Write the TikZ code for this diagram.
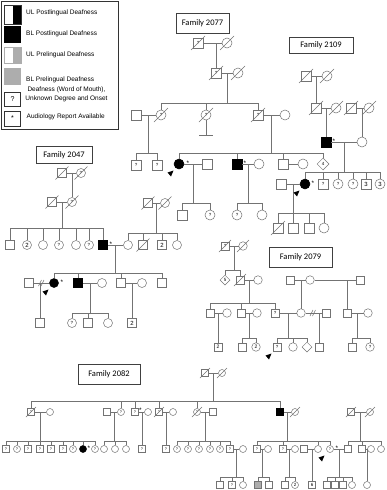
\documentclass[tikz,border=0pt]{standalone}
\usepackage{fontspec}
\setmainfont{Liberation Sans}
\newfontfamily\famfont{Carlito}
\usetikzlibrary{shapes.geometric,calc}
\definecolor{lc}{gray}{0.45}
\definecolor{gfill}{gray}{0.68}
\tikzset{
  ln/.style={draw=lc, line width=0.5pt},
  sym/.style={draw=lc, fill=white, line width=0.5pt, inner sep=0pt, font=\fontsize{4.5}{5}\selectfont},
  sq/.style={sym, rectangle, minimum size=#1},
  sq/.default=10pt,
  ci/.style={sym, circle, minimum size=#1},
  ci/.default=10pt,
  dm/.style={sym, diamond, minimum size=#1},
  dm/.default=12pt,
  blk/.style={fill=black, draw=black},
  gry/.style={fill=gfill},
  famlabel/.style={draw=black!75, line width=0.6pt, font=\famfont\fontsize{8.5}{9}\selectfont, inner sep=0pt},
  lgt/.style={font=\fontsize{6.5}{7}\selectfont, anchor=west, inner sep=0pt},
  starmark/.style={font=\fontsize{6.5}{6.5}\selectfont, inner sep=0pt},
}
\newcommand\dec[2][7]{\draw[ln] ([shift={(-#1pt,-#1pt)}]#2.center) -- ([shift={(#1pt,#1pt)}]#2.center);}
\newcommand\cp[3]{\coordinate (#1) at ($(#2)!.5!(#3)$);}
\newcommand\sib[5]{%
  \draw[ln] (#1) -- (#1 |- 0,#2);
  \draw[ln] (#3 |- 0,#2) -- (#4 |- 0,#2);
  \foreach \c in {#5} {\draw[ln] (\c.north) -- (\c |- 0,#2);}
}
\newcommand\prob[1]{\fill[black] ([shift={(-5.5pt,-6.5pt)}]#1.center) -- ([shift={(-11.5pt,-8.5pt)}]#1.center) -- ([shift={(-8pt,-12.5pt)}]#1.center) -- cycle;}
\newcommand\dvc[1]{\draw[ln] ([shift={(-3pt,-3pt)}]#1) -- ++(3pt,6pt); \draw[ln] ([shift={(-0.5pt,-3pt)}]#1) -- ++(3pt,6pt);}
\begin{document}
\begin{tikzpicture}[x=1pt,y=-1pt]
\useasboundingbox[fill=white] (0,0) rectangle (386,490);
% ---------------- Legend
\draw[black!80, line width=0.6pt] (1,1) rectangle (118,129);
\node[draw=black!80, minimum width=17pt, minimum height=19pt, inner sep=0pt,
  path picture={\fill[black] (path picture bounding box.north) rectangle (path picture bounding box.south east);}] (L1) at (12.5,14.5) {};
\node[fill=black, minimum width=17pt, minimum height=17pt, inner sep=0pt] (L2) at (12.5,34.5) {};
\node[draw=gfill, minimum width=17pt, minimum height=16pt, inner sep=0pt,
  path picture={\fill[gfill] (path picture bounding box.north) rectangle (path picture bounding box.south east);}] (L3) at (12.5,55) {};
\node[fill=gfill, minimum width=17pt, minimum height=17pt, inner sep=0pt] (L4) at (12.5,76.5) {};
\node[draw=black!80, minimum width=16pt, minimum height=14pt, inner sep=0pt, font=\fontsize{7}{7}\selectfont] (L5) at (12.5,99) {?};
\node[draw=black!80, minimum width=16pt, minimum height=15pt, inner sep=0pt, font=\fontsize{7}{7}\selectfont] (L6) at (12.5,118.5) {*};
\node[lgt] (t1) at (26,13) {UL Postlingual Deafness};
\node[lgt] (t2) at (26,34) {BL Postlingual Deafness};
\node[lgt] (t3) at (26,55) {UL Prelingual Deafness};
\node[lgt] (t4) at (26,80) {BL Prelingual Deafness};
\node[font=\fontsize{6.5}{8.5}\selectfont, align=center, inner sep=0pt] (t5) at (66.5,94.5) {Deafness (Word of Mouth),\\Unknown Degree and Onset};
\node[lgt] (t6) at (26.5,117) {Audiology Report Available};

% ---------------- Family 2077
\node[famlabel, minimum width=53pt, minimum height=20pt] (F2077) at (202.5,23) {Family 2077};
\node[sq] (a1) at (198,43) {?};
\node[ci] (a2) at (227,43) {};
\node[sq] (a3) at (216,73) {?};
\node[ci] (a4) at (238,73) {};
\node[sq] (a5) at (136,115) {};
\node[ci] (a6) at (161,115) {?};
\node[ci] (a7) at (206,115) {?};
\node[sq] (a8) at (258,115) {?};
\node[ci] (a9) at (285,115) {};
\node[sq] (a10) at (136,165) {?};
\node[sq] (a11) at (157,165) {?};
\node[ci,blk] (a12) at (179,164) {};
\node[sq] (a16) at (207,164) {};
\node[sq,blk] (a13) at (237,164) {};
\node[ci] (a17) at (259,164) {};
\node[sq] (a14) at (283,164) {};
\node[ci] (a18) at (303,164) {};
\node[dm=12pt] (a15) at (323,164) {4};
\node[sq] (a19) at (182,215) {};
\node[ci] (a20) at (210,215) {?};
\node[ci] (a21) at (237,215) {?};
\node[ci] (a22) at (262,215) {};
\draw[ln] (a1) -- (a2);
\draw[ln] (a3.north) -- (a3 |- a1);
\draw[ln] (a3) -- (a4);
\cp{pa2}{a3}{a4}
\sib{pa2}{103}{a6}{a8}{a6,a7,a8}
\draw[ln] (a5) -- (a6);
\cp{pa3}{a5}{a6}
\sib{pa3}{153}{a10}{a11}{a10,a11}
\draw[ln] (a7.south) -- ++(0,15) coordinate (a7b);
\draw[ln] ([xshift=-7pt]a7b) -- ([xshift=7pt]a7b);
\draw[ln] (a8) -- (a9);
\cp{pa4}{a8}{a9}
\sib{pa4}{153}{a12}{a15}{a12,a13,a14,a15}
\draw[ln] (a12) -- (a16);
\cp{pa5}{a12}{a16}
\sib{pa5}{203}{a19}{a20}{a19,a20}
\draw[ln] (a13) -- (a17);
\cp{pa6}{a13}{a17}
\sib{pa6}{203}{a21}{a22}{a21,a22}
\draw[ln] (a14) -- (a18);
\foreach \n in {a1,a2,a3,a4,a6,a7,a8} {\dec{\n}}
\node[starmark] (sa12) at (188,163) {*};
\node[starmark] (sa13) at (245,163) {*};
\prob{a12}

% ---------------- Family 2109
\node[famlabel, minimum width=64pt, minimum height=16pt] (F2109) at (321,45) {Family 2109};
\node[sq] (b1) at (306,76) {};
\node[ci] (b2) at (327,76) {};
\node[sq] (b3) at (316,108) {};
\node[ci] (b4) at (336,108) {};
\node[sq] (b5) at (351,108) {};
\node[ci] (b6) at (369,108) {};
\node[sq,blk] (b7) at (326,142) {};
\node[ci] (b8) at (362,142) {};
\node[sq] (b15) at (281,184) {};
\node[ci,blk] (b9) at (305,184) {};
\node[sq] (b10) at (323,184) {?};
\node[ci] (b11) at (338,184) {?};
\node[ci] (b12) at (353,184) {?};
\node[sq, font=\fontsize{6}{6}\selectfont] (b13) at (366,184) {3};
\node[ci, font=\fontsize{6}{6}\selectfont] (b14) at (380,184) {3};
\node[sq] (b16) at (278,228) {};
\node[sq] (b17) at (293,228) {};
\node[sq] (b18) at (309,228) {};
\node[ci] (b19) at (324,228) {};
\draw[ln] (b1) -- (b2);
\draw[ln] (b3.north) -- (b3 |- b1);
\draw[ln] (b3) -- (b4);
\draw[ln] (b7.north) -- (b7 |- b3);
\draw[ln] (b5) -- (b6);
\draw[ln] (b8.north) -- (b8 |- b5);
\draw[ln] (b7) -- (b8);
\cp{pb1}{b7}{b8}
\sib{pb1}{172}{b9}{b14}{b9,b10,b11,b12,b13,b14}
\draw[ln] (b15) -- (b9);
\cp{pb2}{b15}{b9}
\sib{pb2}{213}{b16}{b19}{b16,b17,b18,b19}
\foreach \n in {b1,b2,b3,b4,b5,b6,b16} {\dec{\n}}
\node[starmark] (sb7) at (334,141) {*};
\node[starmark] (sb9) at (313,183) {*};
\prob{b9}

% ---------------- Family 2047
\node[famlabel, minimum width=56pt, minimum height=17pt] (F2047) at (64,155) {Family 2047};
\node[sq=9pt] (c1) at (62,173) {};
\node[ci=9pt] (c2) at (81,173) {?};
\node[sq=9pt] (c3) at (52,202) {};
\node[ci=9pt] (c4) at (72,202) {?};
\node[sq=9pt] (c5) at (10,245) {};
\node[ci=9pt, font=\fontsize{6}{6}\selectfont] (c6) at (27,245) {2};
\node[ci=9pt] (c7) at (43,245) {};
\node[ci=9pt] (c8) at (59,245) {?};
\node[ci=9pt] (c9) at (76,245) {};
\node[ci=9pt] (c10) at (89,245) {?};
\node[sq=9pt,blk] (c11) at (103,245) {};
\node[ci=9pt] (c12) at (128,245) {};
\node[sq=9pt] (c13) at (148,203) {};
\node[ci=9pt] (c14) at (165,203) {};
\node[sq=9pt] (c15) at (143,245) {};
\node[sq=9pt, font=\fontsize{6}{6}\selectfont] (c16) at (162,245) {2};
\node[ci=9pt] (c17) at (177,245) {};
\node[sq=9pt] (c22) at (29,283) {};
\node[ci=9pt,blk] (c18) at (54,283) {};
\node[sq=9pt,blk] (c19) at (78,283) {};
\node[ci=9pt] (c23) at (102,283) {};
\node[sq=9pt] (c20) at (121,283) {};
\node[ci=9pt] (c24) at (142,283) {};
\node[sq=9pt] (c21) at (162,283) {};
\node[sq=9pt] (c25) at (40,323) {};
\node[ci=9pt] (c26) at (72,323) {?};
\node[sq=9pt] (c27) at (88,323) {};
\node[ci=9pt] (c28) at (108,323) {};
\node[sq=9pt, font=\fontsize{6}{6}\selectfont] (c29) at (132,323) {2};
\draw[ln] (c1) -- (c2);
\draw[ln] (c4.north) -- (c4 |- c1);
\draw[ln] (c3) -- (c4);
\cp{pc1}{c3}{c4}
\sib{pc1}{228}{c5}{c11}{c5,c6,c7,c8,c9,c10,c11}
\draw[ln] (c13) -- (c14);
\cp{pc2}{c13}{c14}
\sib{pc2}{233}{c12}{c17}{c12,c15,c16,c17}
\draw[ln] (c11) -- (c12);
\cp{pc3}{c11}{c12}
\sib{pc3}{273}{c18}{c21}{c18,c19,c20,c21}
\draw[ln] (c22) -- (c18);
\coordinate (dv1) at ($(c22)!.5!(c18)$);
\dvc{dv1}
\draw[ln] (c25.north) -- (c25 |- c22);
\draw[ln] (c19) -- (c23);
\cp{pc4}{c19}{c23}
\sib{pc4}{313}{c26}{c28}{c26,c27,c28}
\draw[ln] (c20) -- (c24);
\draw[ln] (c29.north) -- (c29 |- c20);
\foreach \n in {c1,c2,c3,c4,c13,c14,c15} {\dec[6.5]{\n}}
\node[starmark] (sc11) at (111,244) {*};
\node[starmark] (sc18) at (62,282) {*};
\prob{c18}

% ---------------- Family 2079
\node[famlabel, minimum width=63pt, minimum height=20pt] (F2079) at (300.5,257.5) {Family 2079};
\node[sq=8.5pt] (d1) at (225,246) {?};
\node[ci=8.5pt] (d2) at (243,246) {};
\node[dm=10pt, font=\fontsize{4.5}{5}\selectfont] (d3) at (225,280) {5};
\node[sq=8.5pt] (d4) at (240,280) {};
\node[ci=8.5pt] (d5) at (258,280) {};
\node[sq=8.5pt] (d11) at (290,280) {};
\node[ci=8.5pt] (d12) at (310,280) {};
\node[sq=8.5pt] (d13) at (360,280) {};
\node[sq=8.5pt] (d6) at (210,313) {};
\node[ci=8.5pt] (d7) at (227,313) {};
\node[sq=8.5pt] (d8) at (241,313) {};
\node[ci=8.5pt] (d9) at (257,313) {};
\node[sq=8.5pt] (d10) at (275,313) {?};
\node[ci=8.5pt] (d14) at (301,313) {};
\node[sq=8.5pt] (d20) at (326,313) {};
\node[sq=8.5pt] (d15) at (347,313) {};
\node[ci=8.5pt] (d16) at (368,313) {};
\node[sq=8.5pt, font=\fontsize{5}{5}\selectfont] (d24) at (218,347) {2};
\node[sq=8.5pt] (d25) at (242,347) {};
\node[ci=8.5pt, font=\fontsize{5}{5}\selectfont] (d26) at (256,347) {2};
\node[sq=8.5pt] (d17) at (277,347) {?};
\node[ci=8.5pt] (d18) at (293,347) {};
\node[dm=10pt] (d19) at (307,347) {};
\node[sq=8.5pt] (d21) at (319,347) {};
\node[sq=8.5pt] (d22) at (352,347) {};
\node[ci=8.5pt] (d23) at (370,347) {?};
\draw[ln] (d1) -- (d2);
\cp{pd1}{d1}{d2}
\sib{pd1}{270}{d3}{d4}{d3,d4}
\draw[ln] (d4) -- (d5);
\cp{pd2}{d4}{d5}
\sib{pd2}{303}{d6}{d10}{d6,d8,d10}
\draw[ln] (d11) -- (d12);
\draw[ln] (d12) -- (d13);
\draw[ln] (d14.north) -- (d14 |- d11);
\draw[ln] (d15.north) -- (d15 |- d12);
\draw[ln] (d6) -- (d7);
\draw[ln] (d24.north) -- (d24 |- d6);
\draw[ln] (d8) -- (d9);
\cp{pd3}{d8}{d9}
\sib{pd3}{338}{d25}{d26}{d25,d26}
\draw[ln] (d10) -- (d14);
\cp{pd4}{d10}{d14}
\sib{pd4}{338}{d17}{d19}{d17,d18,d19}
\draw[ln] (d14) -- (d20);
\coordinate (dv2) at (313,313);
\dvc{dv2}
\draw[ln] (d21.north) -- (d21 |- d14);
\draw[ln] (d15) -- (d16);
\cp{pd5}{d15}{d16}
\sib{pd5}{338}{d22}{d23}{d22,d23}
\foreach \n in {d1,d2,d4} {\dec[6]{\n}}
\prob{d17}

% ---------------- Family 2082
\node[famlabel, minimum width=62pt, minimum height=20pt] (F2082) at (109,374) {Family 2082};
\tikzset{s7/.style={minimum size=7pt, font=\fontsize{3.8}{4}\selectfont}}
\node[sq,s7] (e1) at (205,373) {};
\node[ci,s7] (e2) at (222,373) {};
\node[sq,s7] (e3) at (31,412) {?};
\node[ci,s7] (e4) at (50,412) {};
\node[sq,s7] (e5) at (107,412) {};
\node[ci,s7] (e6) at (121,412) {?};
\node[sq,s7] (e7) at (135,412) {?};
\node[ci,s7] (e8) at (148,412) {};
\node[sq,s7] (e9) at (159,412) {?};
\node[ci,s7] (e10) at (173,412) {};
\node[ci,s7] (e11) at (197,412) {?};
\node[sq,s7] (e12) at (213,412) {};
\node[sq,s7,blk] (e13) at (280,412) {};
\node[ci,s7] (e14) at (295,412) {};
\node[sq,s7] (e15) at (351,412) {};
\node[ci,s7] (e16) at (370,412) {};
% gen III
\node[sq,s7] (e17) at (6,449) {?};
\node[ci,s7] (e18) at (17,449) {?};
\node[sq,s7] (e19) at (28,449) {?};
\node[sq,s7] (e20) at (40,449) {?};
\node[sq,s7] (e21) at (51,449) {?};
\node[sq,s7] (e22) at (63,449) {?};
\node[ci,s7] (e23) at (73,449) {?};
\node[ci,s7,blk] (e24) at (83,449) {};
\node[ci,s7] (e25) at (95,449) {?};
\node[ci,s7] (e26) at (104,449) {};
\node[ci,s7] (e27) at (115,449) {};
\node[ci,s7] (e28) at (126,449) {};
\node[sq,s7] (e29) at (142,449) {?};
\node[sq,s7] (e30) at (166,449) {?};
\node[ci,s7] (e31) at (177,449) {?};
\node[ci,s7] (e32) at (188,449) {?};
\node[ci,s7] (e33) at (199,449) {?};
\node[ci,s7] (e34) at (210,449) {?};
\node[ci,s7] (e35) at (220,449) {?};
\node[sq,s7] (e36) at (230,449) {?};
\node[ci,s7] (e37) at (243,449) {};
\node[sq,s7] (e38) at (257,449) {?};
\node[ci,s7] (e39) at (268,449) {};
\node[sq,s7] (e40) at (283,449) {?};
\node[ci,s7] (e41) at (295,449) {};
\node[sq,s7] (e42) at (304,449) {};
\node[ci,s7] (e43) at (318,449) {};
\node[ci,s7] (e44) at (330,449) {?};
\node[sq,s7] (e45) at (348,449) {};
\node[sq,s7] (e46) at (362,449) {};
\node[ci,s7] (e47) at (371,449) {};
\node[ci,s7] (e48) at (381,449) {};
% gen IV
\node[sq,s7] (e49) at (220,485) {};
\node[sq,s7] (e50) at (232,485) {?};
\node[ci,s7] (e51) at (243,485) {};
\node[sq,s7,gry] (e52) at (258,485) {};
\node[sq,s7] (e53) at (269,485) {};
\node[sq,s7] (e54) at (285,485) {};
\node[ci,s7,font=\fontsize{4.5}{5}\selectfont] (e55) at (295,485) {2};
\node[sq,s7,font=\fontsize{4.5}{5}\selectfont] (e56) at (312,485) {6};
\node[sq,s7] (e57) at (327,485) {};
\node[sq,s7] (e58) at (335,485) {};
\node[sq,s7] (e59) at (343,485) {};
\node[ci,s7] (e60) at (352,485) {};
\node[ci,s7] (e61) at (367,485) {};
\draw[ln] (e1) -- (e2);
\cp{pe1}{e1}{e2}
\sib{pe1}{401}{e3}{e13}{e3,e6,e7,e9,e11,e13}
\draw[ln] (e3) -- (e4);
\cp{pe2}{e3}{e4}
\sib{pe2}{441}{e17}{e25}{e17,e18,e19,e20,e21,e22,e23,e24,e25}
\draw[ln] (e5) -- (e6);
\cp{pe3}{e5}{e6}
\sib{pe3}{441}{e26}{e28}{e26,e27,e28}
\draw[ln] (e7) -- (e8);
\draw[ln] (e29.north) -- (e29 |- e7);
\draw[ln] (e9) -- (e10);
\draw[ln] (e30.north) -- (e30 |- e9);
\draw[ln] (e11) -- (e12);
\cp{pe4}{e11}{e12}
\sib{pe4}{441}{e31}{e36}{e31,e32,e33,e34,e35,e36}
\draw[ln] (e13) -- (e14);
\cp{pe5}{e13}{e14}
\sib{pe5}{441}{e38}{e44}{e38,e40,e43,e44}
\draw[ln] (e15) -- (e16);
\cp{pe6}{e15}{e16}
\sib{pe6}{441}{e45}{e48}{e45,e46,e48}
\draw[ln] (e36) -- (e37);
\cp{pe7}{e36}{e37}
\sib{pe7}{477}{e49}{e51}{e49,e50,e51}
\draw[ln] (e38) -- (e39);
\cp{pe8}{e38}{e39}
\sib{pe8}{477}{e52}{e53}{e52,e53}
\draw[ln] (e40) -- (e41);
\cp{pe9}{e40}{e41}
\sib{pe9}{477}{e54}{e55}{e54,e55}
\draw[ln] (e42) -- (e43);
\draw[ln] (e56.north) -- (e56 |- e42);
\draw[ln] (e44) -- (e45);
\cp{pe10}{e44}{e45}
\sib{pe10}{477}{e57}{e60}{e57,e58,e59,e60}
\draw[ln] (e46) -- (e47);
\draw[ln] (e61.north) -- (e61 |- e46);
\foreach \n in {e1,e2,e3,e9,e11,e14,e15,e16} {\dec[5]{\n}}
\node[starmark] (se7) at (140.5,410) {*};
\node[starmark] (se24) at (89,448) {*};
\node[starmark] (se44) at (337,448) {*};
\prob{e44}
\end{tikzpicture}
\end{document}
